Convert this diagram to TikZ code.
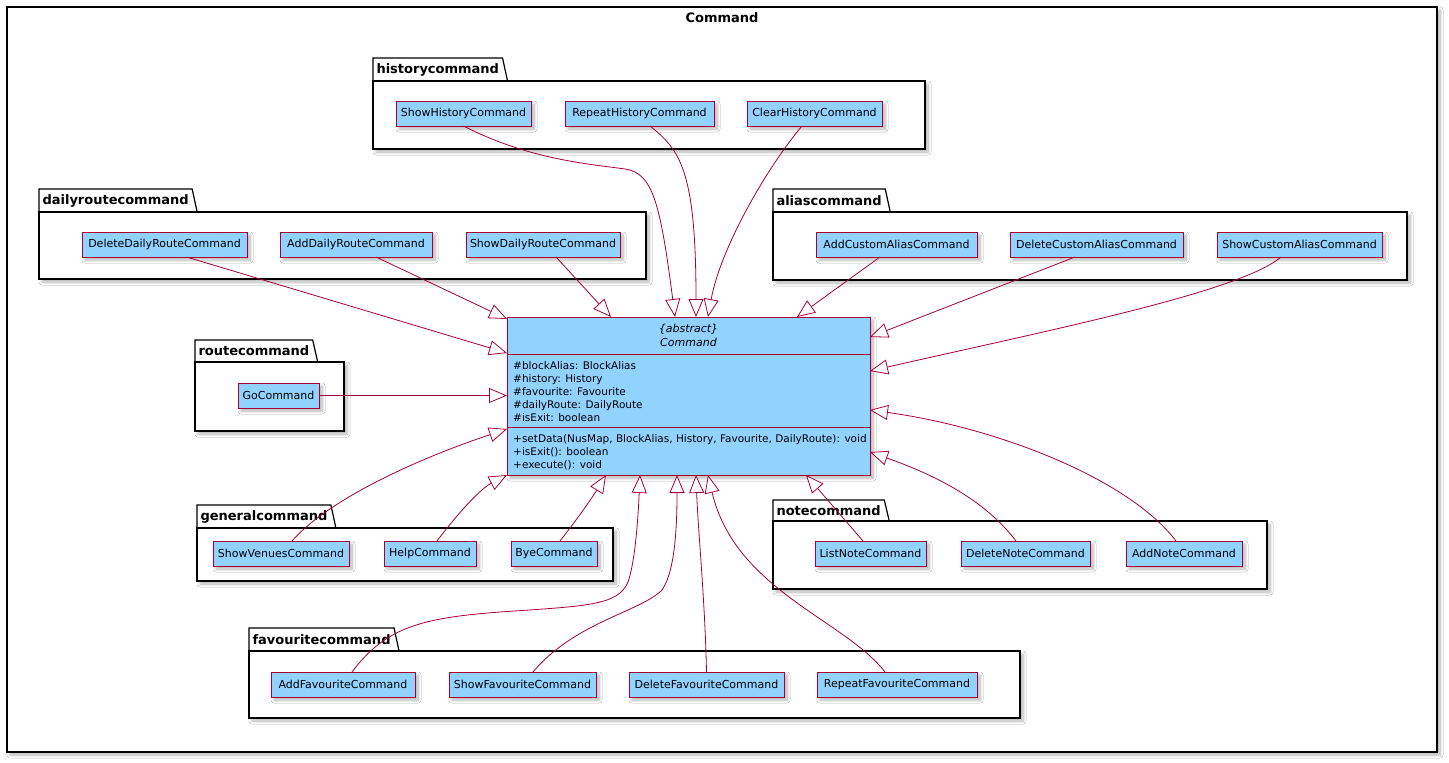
\documentclass[tikz,border=0pt]{standalone}
\usepackage{fontspec}
\setmainfont{DejaVu Sans}
\usetikzlibrary{arrows.meta,shadows.blur,calc}
\definecolor{crim}{HTML}{A80036}
\definecolor{skyb}{RGB}{145,210,255}
\tikzset{
 shad/.style={blur shadow={shadow xshift=3pt,shadow yshift=-3pt,shadow blur radius=3pt,shadow blur steps=8,shadow opacity=30}},
 cls/.style={draw=crim, fill=skyb, line width=1pt, minimum height=25pt, inner sep=0pt, outer sep=0pt, font=\fontsize{11}{13}\selectfont, shad},
 pkgbody/.style={draw=black, fill=white, line width=1.2pt, shad},
 pkgtab/.style={draw=black, line width=1.2pt, line join=miter},
 pkgtitle/.style={font=\bfseries\fontsize{13}{15}\selectfont, inner xsep=3.5pt, inner ysep=0pt, outer sep=0pt, anchor=north west},
 inh/.style={draw=crim, line width=0.8pt, -{Triangle[length=18pt,width=15pt,fill=white,line width=0.8pt]}},
 mem/.style={font=\fontsize{10.5}{13}\selectfont, anchor=base west, inner sep=0pt},
 hdr/.style={font=\itshape\fontsize{11}{13}\selectfont, inner sep=0pt},
}
\newcommand\clsbox[5]{\node[cls, minimum width={(#3-#2)*1pt}] (#1) at ({(#2+#3)/2},{#4+12.5}) {#5};}
\newcommand\pkgbox[7]{%
 \draw[pkgbody] (#2,#5) rectangle (#3,#6);
 \node[pkgtitle, minimum height={(#5-#4)*1pt}] (#1) at (#2,#4) {#7};
 \draw[pkgtab] (#2,#5) -- (#1.north west) -- (#1.north east) -- ([xshift=5pt]#1.south east);
}
\begin{document}
\begin{tikzpicture}[x=1pt,y=-1pt]
\useasboundingbox (0,0) rectangle (1449,763);
\fill[white] (0,0) rectangle (1449,763);
% outer frame
\draw[line width=1.4pt, fill=white, shad] (7,7) rectangle (1437,752);
\node[font=\bfseries\fontsize{13}{15}\selectfont, inner sep=0pt] (title) at (722,18) {Command};

% packages
\pkgbox{phist}{373}{925}{58}{81}{149}{historycommand}
\pkgbox{pdaily}{39}{646}{189}{212}{279}{dailyroutecommand}
\pkgbox{palias}{773}{1407}{189}{212}{280}{aliascommand}
\pkgbox{proute}{195}{344}{340}{362}{431}{routecommand}
\pkgbox{pgen}{197}{613}{505}{528}{581}{generalcommand}
\pkgbox{pnote}{773}{1267}{500}{521}{589}{notecommand}
\pkgbox{pfav}{249}{1020}{628}{651}{718}{favouritecommand}

% main abstract class
\node[draw=crim, fill=skyb, line width=1pt, minimum width=363pt, minimum height=158pt, outer sep=0pt, inner sep=0pt, shad] (cmd) at (688.5,396) {};
\draw[crim, line width=1pt] ($(cmd.north west)+(0,37)$) -- ($(cmd.north east)+(0,37)$);
\draw[crim, line width=1pt] ($(cmd.north west)+(0,110)$) -- ($(cmd.north east)+(0,110)$);
\node[hdr] (abs) at (688.5,329) {\{abstract\}};
\node[hdr] (cname) at (688.5,342) {Command};
\node[mem] (a1) at (513,369) {\#blockAlias: BlockAlias};
\node[mem] (a2) at (513,382) {\#history: History};
\node[mem] (a3) at (513,395) {\#favourite: Favourite};
\node[mem] (a4) at (513,408) {\#dailyRoute: DailyRoute};
\node[mem] (a5) at (513,421) {\#isExit: boolean};
\node[mem] (m1) at (513,442) {+setData(NusMap, BlockAlias, History, Favourite, DailyRoute): void};
\node[mem] (m2) at (513,455) {+isExit(): boolean};
\node[mem] (m3) at (513,468) {+execute(): void};

% classes
\clsbox{sh}{396}{531}{101}{ShowHistoryCommand}
\clsbox{rh}{565}{714}{101}{RepeatHistoryCommand}
\clsbox{ch}{747}{882}{101}{ClearHistoryCommand}
\clsbox{dd}{82}{247}{232}{DeleteDailyRouteCommand}
\clsbox{ad}{280}{432}{232}{AddDailyRouteCommand}
\clsbox{sd}{466}{620}{232}{ShowDailyRouteCommand}
\clsbox{aa}{816}{977}{232}{AddCustomAliasCommand}
\clsbox{da}{1010}{1183}{232}{DeleteCustomAliasCommand}
\clsbox{sa}{1217}{1382}{232}{ShowCustomAliasCommand}
\clsbox{go}{238}{319}{383}{GoCommand}
\clsbox{sv}{213}{349}{541}{ShowVenuesCommand}
\clsbox{hc}{384}{476}{541}{HelpCommand}
\clsbox{bc}{511}{597}{541}{ByeCommand}
\clsbox{ln}{815}{926}{541}{ListNoteCommand}
\clsbox{dn}{961}{1090}{541}{DeleteNoteCommand}
\clsbox{an}{1126}{1242}{541}{AddNoteCommand}
\clsbox{af}{271}{415}{672}{AddFavouriteCommand}
\clsbox{sf}{449}{596}{672}{ShowFavouriteCommand}
\clsbox{df}{629}{784}{672}{DeleteFavouriteCommand}
\clsbox{rf}{817}{977}{672}{RepeatFavouriteCommand}

% generalisations
\draw[inh] (sh.south) .. controls (530,160) and (590,164) .. (625,169) .. controls (652,173) and (660,200) .. ([xshift=168pt]cmd.north west);
\draw[inh] ([xshift=10.5pt]rh.south) .. controls (680,150) and (696,170) .. ([xshift=189pt]cmd.north west);
\draw[inh] ([xshift=-12.5pt]ch.south) .. controls (765,170) and (720,250) .. ([xshift=201pt]cmd.north west);
\draw[inh] ([xshift=13pt]sd.south) -- ([xshift=104pt]cmd.north west);
\draw[inh] ([xshift=20pt]ad.south) -- ([yshift=-2pt]cmd.north west);
\draw[inh] ([xshift=22pt]dd.south) -- ([yshift=-36pt]cmd.north west);
\draw[inh] ([xshift=-16.5pt]aa.south) -- ([xshift=290pt]cmd.north west);
\draw[inh] ([xshift=-21.5pt]da.south) -- ([yshift=-20pt]cmd.north east);
\draw[inh] ([xshift=-18.5pt]sa.south) .. controls (1240,292) and (1050,330) .. ([yshift=-54pt]cmd.north east);
\draw[inh] (go.east) -- (go.east -| cmd.west);
\draw[inh] ([xshift=11pt]sv.north) .. controls (330,498) and (420,458) .. ([yshift=-112pt]cmd.north west);
\draw[inh] ([xshift=7pt]hc.north) .. controls (462,508) and (482,488) .. (cmd.south west);
\draw[inh] ([xshift=6pt]bc.north) .. controls (578,518) and (592,498) .. ([xshift=99pt]cmd.south west);
\draw[inh] ([xshift=-7.5pt]ln.north) -- ([xshift=299pt]cmd.south west);
\draw[inh] ([xshift=-9.5pt]dn.north) .. controls (985,500) and (935,475) .. ([yshift=-135pt]cmd.north east);
\draw[inh] ([xshift=-8pt]an.north) .. controls (1130,480) and (1000,428) .. ([yshift=-93pt]cmd.north east);
\draw[inh] ([xshift=9pt]af.north) .. controls (385,628) and (420,618) .. (500,612) .. controls (585,606) and (618,606) .. (628,582) .. controls (635,562) and (638,520) .. ([xshift=133pt]cmd.south west);
\draw[inh] ([xshift=10.5pt]sf.north) .. controls (575,622) and (640,612) .. (662,590) .. controls (676,570) and (677,520) .. ([xshift=170pt]cmd.south west);
\draw[inh] (df.north) .. controls (705,600) and (698,530) .. ([xshift=189pt]cmd.south west);
\draw[inh] ([xshift=-12pt]rf.north) .. controls (845,620) and (735,590) .. ([xshift=201pt]cmd.south west);
\end{tikzpicture}
\end{document}
